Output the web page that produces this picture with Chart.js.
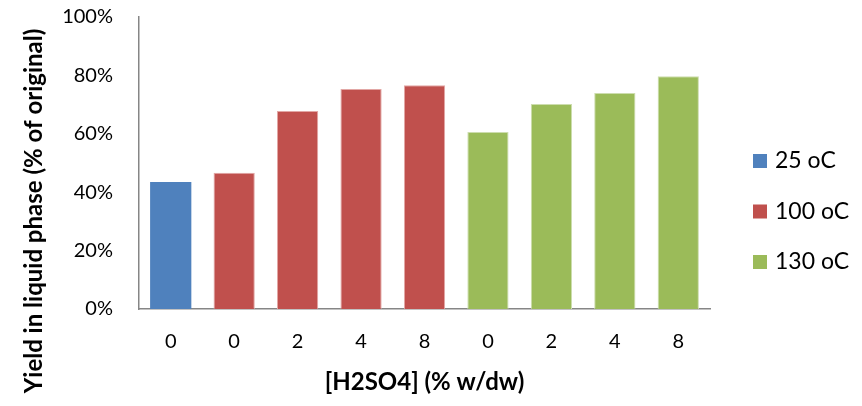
<!DOCTYPE html>
<html>
<head>
<meta charset="utf-8">
<script src="https://cdn.jsdelivr.net/npm/chart.js@4.4.1/dist/chart.umd.min.js"></script>
<style>
  html, body { margin: 0; padding: 0; background: #fff; }
  #wrap { width: 862px; height: 406px; }
</style>
</head>
<body>
<div id="wrap"><canvas id="c" width="862" height="406"></canvas></div>
<script>
const categories = ['0', '0', '2', '4', '8', '0', '2', '4', '8'];
const seriesNames = ['25 oC', '100 oC', '130 oC'];
const values25 = [43.5, null, null, null, null, null, null, null, null];
const values100 = [null, 46.7, 67.8, 75.3, 76.6, null, null, null, null];
const values130 = [null, null, null, null, null, 60.6, 70.2, 74.0, 79.7];
const yTicks = [0, 20, 40, 60, 80, 100];
const xTitle = '[H2SO4] (% w/dw)';
const yTitle = 'Yield in liquid phase (% of original)';

const FONT = 'Lato, "Open Sans", sans-serif';

const yTitlePlugin = {
  id: 'yTitlePlugin',
  afterDraw(chart) {
    const ctx = chart.ctx;
    ctx.save();
    ctx.translate(34, 211);
    ctx.rotate(-Math.PI / 2);
    ctx.font = 'bold 24px ' + FONT;
    ctx.fillStyle = '#000';
    ctx.textAlign = 'center';
    ctx.textBaseline = 'middle';
    ctx.fillText(yTitle, 0, 0);
    ctx.restore();
  }
};

const sideLegendPlugin = {
  id: 'sideLegendPlugin',
  afterDraw(chart) {
    const ctx = chart.ctx;
    const x0 = chart.chartArea.right + 43;
    const yCenter = 211.5;
    const step = 50.5;
    const n = chart.data.datasets.length;
    ctx.save();
    ctx.font = '23px ' + FONT;
    ctx.textBaseline = 'middle';
    ctx.textAlign = 'left';
    chart.data.datasets.forEach((ds, i) => {
      const y = yCenter + (i - (n - 1) / 2) * step;
      ctx.fillStyle = ds.backgroundColor;
      ctx.fillRect(x0, y - 7, 14, 14);
      ctx.fillStyle = '#000';
      ctx.fillText(ds.label, x0 + 22, y);
    });
    ctx.restore();
  }
};

new Chart(document.getElementById('c'), {
  type: 'bar',
  data: {
    labels: categories,
    datasets: [
      { label: seriesNames[0], data: values25, backgroundColor: '#4F81BD', borderColor: '#4F81BD', borderWidth: 0 },
      { label: seriesNames[1], data: values100, backgroundColor: '#C0504D', borderColor: '#E2A7A5', borderWidth: 1 },
      { label: seriesNames[2], data: values130, backgroundColor: '#9BBB59', borderColor: '#CDDDAE', borderWidth: 1 }
    ]
  },
  options: {
    responsive: false,
    animation: false,
    devicePixelRatio: 1,
    layout: { padding: { top: 17, right: 152, bottom: 0, left: 0 } },
    datasets: { bar: { barPercentage: 0.65, categoryPercentage: 1.0 } },
    plugins: {
      tooltip: { enabled: false },
      title: { display: false },
      legend: { display: false }
    },
    scales: {
      x: {
        stacked: true,
        grid: { display: false, drawTicks: false },
        border: { display: true, color: '#868686', width: 1.5 },
        ticks: { color: '#000', font: { family: FONT, size: 20 }, padding: 21, maxRotation: 0 },
        title: { display: true, text: xTitle, color: '#000', font: { family: FONT, size: 24, weight: 'bold' }, padding: { top: 10, bottom: 9 } },
        afterFit(scale) { scale.height = 97; scale.paddingLeft = 0; scale.paddingRight = 0; }
      },
      y: {
        min: 0,
        max: 100,
        afterBuildTicks(scale) { scale.ticks = yTicks.map(v => ({ value: v })); },
        grid: { display: false, drawTicks: false },
        border: { display: true, color: '#868686', width: 1.5 },
        ticks: { color: '#000', font: { family: FONT, size: 20 }, padding: 26, callback: v => v + '%' },
        afterFit(scale) { scale.width = 139; scale.paddingTop = 10; scale.paddingBottom = 10; }
      }
    }
  },
  plugins: [yTitlePlugin, sideLegendPlugin]
});
</script>
</body>
</html>
